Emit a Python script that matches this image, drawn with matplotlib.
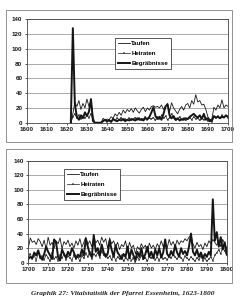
import matplotlib
matplotlib.use("Agg")
import matplotlib.pyplot as plt
from matplotlib.patches import Rectangle

# ---------------- data ----------------
years1 = list(range(1622, 1701))
taufen1 = [0, 12, 28, 22, 30, 18, 26, 20, 32, 22, 30, 8,
           0, 0, 0, 0,
           6, 3, 5, 4, 8, 6, 12, 9, 14, 10, 17, 13, 18, 15, 19, 14, 20, 16, 13, 18,
           21, 15, 20, 17, 22, 23, 21, 22, 20, 24, 18, 22, 26, 15, 27, 20, 16, 12,
           18, 22, 17, 24, 26, 20, 30, 25, 38, 28, 30, 24, 25, 18, 8, 4, 5, 21,
           17, 24, 20, 31, 20, 24, 22]
heiraten1 = [0, 8, 12, 6, 10, 5, 9, 6, 10, 7, 12, 3,
             0, 0, 0, 0,
             2, 3, 1, 4, 2, 5, 3, 6, 4, 7, 3, 5, 4, 6, 3, 5, 7, 4, 6, 3,
             5, 8, 4, 6, 5, 7, 3, 8, 5, 10, 6, 9, 4, 7, 12, 6, 3, 5,
             8, 4, 6, 3, 5, 7, 4, 8, 5, 6, 3, 7, 4, 6, 2, 3, 1, 8,
             6, 9, 7, 10, 8, 9, 7]
begraebnisse1 = [0, 128, 25, 8, 4, 10, 6, 14, 9, 15, 32, 2,
                 0, 0, 0, 0,
                 2, 4, 2, 3, 1, 5, 3, 2, 4, 3, 5, 2, 4, 3, 5, 4, 3, 6, 4, 5,
                 3, 6, 5, 8, 14, 21, 9, 5, 8, 4, 12, 22, 25, 10, 6, 9, 4, 6,
                 3, 5, 4, 6, 5, 8, 10, 12, 9, 7, 10, 5, 12, 4, 6, 2, 3, 9,
                 7, 8, 6, 8, 7, 10, 8]

years2 = list(range(1700, 1801))
taufen2 = [20, 34, 28, 30, 25, 33, 29, 22, 31, 18, 35, 24, 28, 20, 30, 26, 34, 19, 29, 25,
           31, 22, 27, 20, 30, 24, 33, 21, 28, 35, 25, 30, 22, 36, 27, 31, 24, 35, 28, 33,
           20, 34, 26, 30, 22, 28, 18, 25, 22, 30, 16, 28, 20, 24, 12, 22, 18, 26, 20, 24,
           14, 27, 20, 24, 18, 26, 21, 30, 22, 27, 20, 32, 24, 29, 22, 31, 25, 30, 28, 33,
           30, 35, 38, 26, 20, 28, 22, 25, 18, 27, 22, 30, 26, 32, 28, 24, 30, 22, 32, 26,
           20]
heiraten2 = [8, 12, 5, 10, 3, 14, 6, 9, 4, 11, 7, 2, 13, 5, 8, 3, 10, 6, 12, 4,
             9, 7, 3, 11, 5, 8, 2, 10, 6, 13, 8, 15, 5, 12, 9, 14, 7, 16, 10, 12,
             6, 9, 4, 11, 3, 8, 5, 10, 2, 7, 4, 9, 3, 6, 1, 8, 4, 10, 5, 7,
             2, 9, 6, 11, 4, 8, 3, 10, 5, 7, 4, 9, 6, 12, 8, 5, 10, 7, 3, 9,
             6, 4, 8, 5, 2, 7, 4, 9, 3, 6, 2, 5, 8, 3, 10, 14, 18, 12, 22, 16,
             10]
begraebnisse2 = [5, 8, 6, 14, 10, 17, 8, 4, 12, 22, 15, 10, 5, 32, 28, 8, 3, 18, 12, 7,
                 15, 10, 20, 14, 6, 11, 8, 18, 10, 33, 22, 12, 8, 38, 15, 20, 10, 25, 14, 8,
                 12, 30, 18, 8, 24, 14, 10, 5, 12, 8, 22, 6, 18, 10, 4, 15, 8, 20, 5, 12,
                 22, 8, 15, 6, 18, 10, 20, 7, 14, 32, 12, 8, 16, 10, 24, 14, 8, 20, 12, 16,
                 10, 22, 40, 15, 10, 18, 8, 14, 6, 12, 8, 15, 10, 87, 30, 42, 22, 35, 18, 28,
                 12]

labels = ["Taufen", "Heiraten", "Begräbnisse"]
yticks = [0, 20, 40, 60, 80, 100, 120, 140]
xticks1 = list(range(1600, 1701, 10))
xticks2 = list(range(1700, 1801, 10))
caption = "Graphik 27: Vitalstatistik der Pfarrei Essenheim, 1623-1800"

# ---------------- figure ----------------
W, H = 250, 302
fig = plt.figure(figsize=(W / 100, H / 100), dpi=100)
fig.patch.set_facecolor("white")

FONT = "Liberation Sans"
TS = 4.5
LS = 4.4
ink = "#151515"


def fbox(x0, y0, x1, y1):
    return [x0 / W, 1 - y1 / H, (x1 - x0) / W, (y1 - y0) / H]


# outer chart-area boxes
for (x0, y0, x1, y1) in [(6, 10, 232, 142), (6, 149, 232, 283)]:
    r = Rectangle((x0 / W, 1 - y1 / H), (x1 - x0) / W, (y1 - y0) / H,
                  transform=fig.transFigure, fill=False, ec="#808080", lw=0.6)
    fig.add_artist(r)


def draw(ax, years, t, h, b, xlim, xticks, legpos):
    ax.set_facecolor("white")
    ax.plot(years, t, color=ink, lw=0.6, label=labels[0])
    ax.plot(years, h, color=ink, lw=0.5, marker="+", ms=1.1, mew=0.35,
            label=labels[1])
    ax.plot(years, b, color=ink, lw=1.4, label=labels[2])
    ax.set_xlim(*xlim)
    ax.set_ylim(0, 140)
    ax.set_yticks(yticks)
    ax.set_xticks(xticks)
    ax.yaxis.grid(True, color="#8a8a8a", lw=0.5)
    ax.set_axisbelow(True)
    for s in ax.spines.values():
        s.set_color("#444444")
        s.set_linewidth(0.6)
    ax.tick_params(axis="both", length=1.5, width=0.5, pad=1.5,
                   labelsize=TS, colors=ink)
    for lab in ax.get_xticklabels() + ax.get_yticklabels():
        lab.set_fontfamily(FONT)
        lab.set_fontweight("bold")
    leg = ax.legend(loc="upper left", bbox_to_anchor=legpos,
                    prop={"family": FONT, "size": LS, "weight": "bold"},
                    frameon=True, fancybox=False, edgecolor=ink,
                    framealpha=1, borderpad=0.45, labelspacing=0.8,
                    handlelength=2.0, handletextpad=0.2, borderaxespad=0)
    leg.get_frame().set_linewidth(0.5)
    for lh in leg.get_lines():
        if lh.get_marker() == "+":
            lh.set_markersize(2.0)


ax1 = fig.add_axes(fbox(26.5, 19.3, 228, 122.7))
draw(ax1, years1, taufen1, heiraten1, begraebnisse1, (1600, 1700), xticks1,
     (0.44, 0.82))

ax2 = fig.add_axes(fbox(28.3, 160.7, 226.7, 262.7))
draw(ax2, years2, taufen2, heiraten2, begraebnisse2, (1700, 1800), xticks2,
     (0.18, 0.92))

fig.text(123 / W, 1 - 293 / H, caption, ha="center", va="center",
         fontfamily="Liberation Serif", fontstyle="italic", fontweight="bold",
         fontsize=5.3, color="#222222")

fig.savefig("out.png", dpi=100)
